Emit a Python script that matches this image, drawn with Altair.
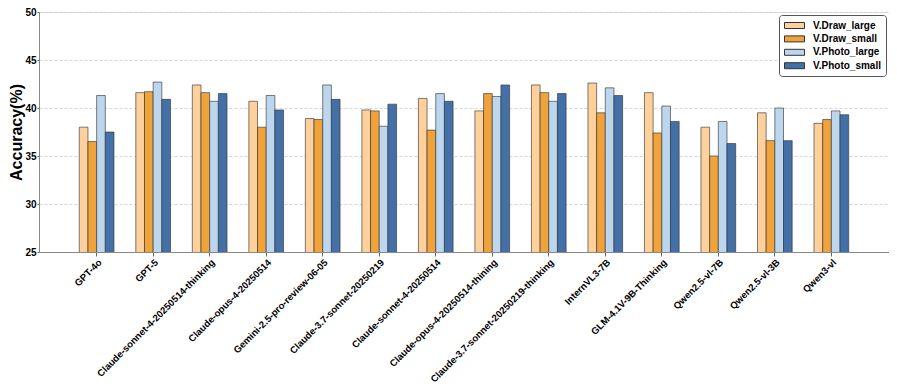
import altair as alt
import pandas as pd

models = [
    "GPT-4o", "GPT-5", "Claude-sonnet-4-20250514-thinking", "Claude-opus-4-20250514",
    "Gemini-2.5-pro-review-06-05", "Claude-3.7-sonnet-20250219", "Claude-sonnet-4-20250514",
    "Claude-opus-4-20250514-thining", "Claude-3.7-sonnet-20250219-thinking", "InternVL3-7B",
    "GLM-4.1V-9B-Thinking", "Qwen2.5-vl-7B", "Qwen2.5-vl-3B", "Qwen3-vl",
]
series = ["V.Draw_large", "V.Draw_small", "V.Photo_large", "V.Photo_small"]
colors = ["#FDD09C", "#F0A23B", "#BCD6EE", "#4470A8"]

draw_large = [38.0, 41.6, 42.4, 40.7, 38.9, 39.8, 41.0, 39.7, 42.4, 42.6, 41.6, 38.0, 39.5, 38.4]
draw_small = [36.5, 41.7, 41.6, 38.0, 38.8, 39.7, 37.7, 41.5, 41.6, 39.5, 37.4, 35.0, 36.6, 38.8]
photo_large = [41.3, 42.7, 40.7, 41.3, 42.4, 38.1, 41.5, 41.2, 40.7, 42.1, 40.2, 38.6, 40.0, 39.7]
photo_small = [37.5, 40.9, 41.5, 39.8, 40.9, 40.4, 40.7, 42.4, 41.5, 41.3, 38.6, 36.3, 36.6, 39.3]

y_ticks = [25, 30, 35, 40, 45, 50]

rows = []
for s, vals in zip(series, [draw_large, draw_small, photo_large, photo_small]):
    for m, v in zip(models, vals):
        rows.append({"model": m, "series": s, "value": v})
df = pd.DataFrame(rows)

x_enc = alt.X("model:N", sort=models, title=None,
              scale=alt.Scale(paddingInner=0.386, paddingOuter=0.713),
              axis=alt.Axis(labelAngle=-45, labelFont="Liberation Sans", labelFontWeight="bold",
                            labelFontSize=9.6, labelColor="black", tickColor="#666", tickSize=4,
                            domainColor="#888", labelPadding=1, labelLimit=0))
y_enc = alt.Y("value:Q", title="Accuracy(%)",
              scale=alt.Scale(domain=[25, 50], zero=False, nice=False),
              axis=alt.Axis(values=y_ticks, format="d", labelFont="Liberation Sans",
                            labelFontWeight="bold", labelFontSize=10, labelColor="black",
                            titleFont="Liberation Sans", titleFontWeight="bold", titleFontSize=16,
                            titleColor="black", titlePadding=0, tickSize=2, tickColor="#666",
                            domainColor="#888", labelPadding=1,
                            grid=True, gridColor="#cccccc", gridDash=[3, 2], gridWidth=0.8))
xo_enc = alt.XOffset("series:N", sort=series, scale=alt.Scale(domain=series, paddingInner=0, paddingOuter=0))
c_enc = alt.Color("series:N", sort=series, scale=alt.Scale(domain=series, range=colors),
                  legend=alt.Legend(title=None, orient="top-right", offset=3,
                                    fillColor="white", strokeColor="#555", cornerRadius=3,
                                    padding=5, labelFont="Liberation Sans", labelFontWeight="bold",
                                    labelFontSize=10, labelColor="black",
                                    symbolType="M-1,-0.6H3V0.6H-1Z", symbolSize=100,
                                    symbolStrokeColor="#333", symbolStrokeWidth=1,
                                    symbolOpacity=1, rowPadding=2.4, labelOffset=18))

base = alt.Chart(df).encode(x=x_enc, y=y_enc, xOffset=xo_enc, color=c_enc)

orange = base.transform_filter(alt.FieldOneOfPredicate(field="series", oneOf=series[:2])).mark_bar(
    clip=True, xOffset=-2.2, stroke="#333", strokeWidth=0.9, strokeOpacity=0.7, opacity=1)
blue = base.transform_filter(alt.FieldOneOfPredicate(field="series", oneOf=series[2:])).mark_bar(
    clip=True, xOffset=2.2, stroke="#333", strokeWidth=0.9, strokeOpacity=0.7, opacity=1)

chart = alt.layer(orange, blue).properties(
    width=881, height=376,
    autosize=alt.AutoSizeParams(type="fit", contains="padding"),
    padding={"left": 0, "top": -1, "right": 0, "bottom": 0},
).configure_view(stroke="#888", strokeWidth=1).configure(background="white")

chart.save("out.html", embed_options={"renderer": "svg", "actions": False})
